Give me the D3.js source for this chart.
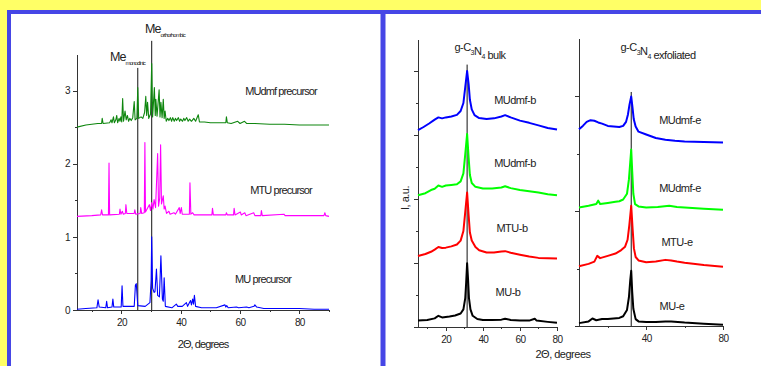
<!DOCTYPE html>
<html lang="en">
<head>
<meta charset="UTF-8">
<title>XRD patterns: precursors and g-C3N4</title>
<script src="https://d3js.org/d3.v7.min.js"></script>
<style>
    body { margin: 0; background: #fff; }
    svg text { font-family: "Liberation Sans Narrow", "Liberation Sans", Arial, sans-serif; fill: #222; }
    .axis path, .axis line { stroke: #333; stroke-width: 1px; shape-rendering: crispEdges; }
    .axis text { font-size: 10px; letter-spacing: -0.6px; }
    .trace { fill: none; stroke-linejoin: round; }
    .lbl { font-size: 11px; letter-spacing: -0.9px; }
    .lbl2 { font-size: 11px; letter-spacing: -0.5px; }
    .me { font-size: 12.5px; letter-spacing: -0.9px; }
</style>
</head>
<body>
<svg id="chart" width="761" height="366"></svg>
<script>
// ---- left panel: precursors, [2theta, intensity] ----
const muPrecursor = [[5,0.01],[8,0.02],[11.7,0.03],[12.1,0.14],[12.5,0.04],[14.7,0.03],[15,0.12],[15.3,0.03],[16.8,0.04],[17.1,0.15],[17.4,0.04],[19.9,0.04],[20.2,0.33],[20.5,0.05],[24.3,0.05],[24.7,0.34],[25,0.36],[25.5,0.06],[28,0.05],[29.6,0.1],[30,0.4],[30.2,1.0],[30.5,0.3],[31,0.24],[31.3,0.25],[31.8,0.56],[32.2,0.2],[32.8,0.18],[33.3,0.74],[33.8,0.15],[34.1,0.12],[34.4,0.44],[34.8,0.05],[37,0.03],[38.5,0.08],[39,0.05],[40.5,0.05],[41.9,0.1],[42.3,0.05],[43.3,0.13],[43.6,0.07],[44,0.15],[44.3,0.08],[44.6,0.2],[45,0.05],[47,0.03],[52,0.03],[54.9,0.07],[55.2,0.04],[55.5,0.06],[56,0.03],[58.8,0.04],[59.5,0.03],[62.2,0.04],[63,0.03],[64.7,0.05],[65,0.07],[65.6,0.04],[68,0.02],[75,0.02],[80,0.02],[85,0.01],[90,0.01]];

const mtuPrecursor = [[5,1.28],[10,1.29],[13,1.30],[13.3,1.37],[13.6,1.30],[15.6,1.30],[15.8,2.01],[16.0,1.30],[19.3,1.31],[19.5,1.38],[19.8,1.31],[20.3,1.35],[20.6,1.31],[21.3,1.32],[21.5,1.44],[21.8,1.32],[24.3,1.32],[24.5,1.37],[24.8,1.31],[26.3,1.32],[26.5,1.40],[26.8,1.32],[27.7,1.33],[27.9,2.29],[28.1,1.34],[29.4,1.44],[29.8,1.36],[30.2,1.47],[30.6,1.38],[31,1.51],[31.5,1.40],[32.2,2.14],[32.5,1.42],[32.9,1.53],[33.2,2.26],[33.5,1.45],[34.1,1.56],[34.4,1.38],[34.7,1.42],[35.2,1.32],[36,1.35],[36.4,1.31],[37.7,1.33],[38.2,1.31],[39.5,1.40],[39.8,1.32],[40.2,1.40],[40.5,1.31],[42.9,1.31],[43.1,1.74],[43.4,1.31],[44,1.33],[44.5,1.30],[47,1.30],[50.5,1.30],[50.7,1.39],[51,1.30],[55.2,1.30],[55.4,1.33],[55.7,1.30],[57.8,1.30],[58,1.39],[58.3,1.30],[60.1,1.34],[60.4,1.30],[61.6,1.33],[62,1.29],[64.6,1.33],[65,1.29],[67,1.29],[67.2,1.36],[67.5,1.29],[74.8,1.31],[75.2,1.29],[80,1.29],[88.3,1.29],[88.6,1.33],[88.9,1.29],[90,1.28]];

const mudmfPrecursor = [[5,2.50],[8,2.53],[12,2.55],[13.3,2.55],[13.5,2.62],[13.8,2.55],[16,2.56],[16.5,2.60],[16.8,2.56],[17.3,2.64],[17.6,2.56],[18.1,2.60],[18.4,2.66],[18.7,2.56],[19.2,2.62],[19.5,2.58],[19.8,2.64],[20.1,2.57],[20.4,2.89],[20.7,2.58],[21.2,2.72],[21.6,2.60],[22,2.66],[22.4,2.58],[22.8,2.62],[23.3,2.59],[23.8,2.63],[24.3,2.85],[24.6,2.60],[25.2,2.62],[25.5,3.04],[25.8,2.62],[26.6,2.64],[27.2,2.62],[27.8,2.70],[28.2,2.92],[28.5,2.66],[28.8,2.84],[29.2,2.62],[29.8,2.68],[30.2,3.37],[30.5,2.64],[31.1,3.04],[31.4,2.66],[31.6,2.88],[32,2.65],[32.7,3.01],[33,2.64],[33.3,2.84],[33.7,2.63],[34.1,2.88],[34.4,2.62],[34.7,2.72],[35.1,2.58],[35.6,2.62],[36,2.59],[36.5,2.63],[36.9,2.58],[37.3,2.63],[37.8,2.58],[38.2,2.62],[38.6,2.59],[39.2,2.63],[39.6,2.58],[40,2.61],[40.6,2.58],[41,2.62],[41.4,2.59],[42,2.63],[42.5,2.58],[43,2.61],[43.6,2.58],[44.4,2.62],[45,2.58],[45.9,2.67],[46.3,2.57],[48,2.57],[50,2.56],[52,2.56],[55.2,2.56],[55.4,2.64],[55.7,2.56],[57,2.55],[59.2,2.58],[60,2.55],[61.5,2.58],[62.2,2.55],[65,2.55],[70,2.54],[75,2.54],[80,2.53],[85,2.53],[90,2.53]];

// reference lines: [2theta, top]
const meMonoclinic = [25.5, 3.31];
const meOrthorhombic = [30.2, 3.68];

const leftXTicks = [20, 40, 60, 80];
const leftXMinor = [10, 30, 50, 70, 90];
const leftYTicks = [0, 1, 2, 3];
const leftYMinor = [0.5, 1.5, 2.5];

// ---- right panels: g-C3N4 bulk / exfoliated ----
const bulkMU = [[5,0.2],[10,0.22],[14,0.27],[16,0.35],[18,0.3],[22,0.33],[25,0.36],[28,0.42],[29.5,0.55],[30.5,0.9],[31,1.4],[31.5,1.99],[32,1.5],[32.5,0.9],[33.3,0.55],[34.5,0.35],[37,0.25],[40,0.22],[45,0.22],[50,0.23],[52,0.26],[55,0.22],[60,0.2],[65,0.2],[68,0.26],[69,0.2],[75,0.16],[80,0.13]];
const bulkMTU = [[5,2.22],[9,2.28],[12,2.35],[14,2.42],[16,2.5],[18,2.47],[20,2.48],[23,2.52],[26,2.58],[28,2.7],[29.5,3.0],[30.5,3.6],[31.5,4.2],[32.3,3.5],[33,2.95],[34,2.7],[36,2.5],[38,2.4],[42,2.33],[46,2.33],[50,2.36],[52,2.37],[55,2.32],[60,2.26],[65,2.2],[70,2.16],[75,2.15],[80,2.14]];
const bulkMUdmfG = [[5,4.12],[9,4.18],[12,4.28],[14,4.32],[16,4.42],[18,4.38],[20,4.42],[23,4.44],[26,4.46],[28,4.55],[29.5,4.8],[30.5,5.4],[31.5,6.03],[32.3,5.3],[33,4.75],[34,4.5],[36,4.38],[40,4.33],[45,4.33],[50,4.36],[52,4.40],[55,4.34],[60,4.28],[65,4.24],[70,4.2],[75,4.15],[80,4.12]];
const bulkMUdmf = [[5,6.15],[8,6.25],[11,6.36],[14,6.48],[16,6.55],[18,6.52],[20,6.55],[23,6.58],[26,6.63],[28,6.75],[29.5,7.0],[30.5,7.5],[31.5,8.0],[32.3,7.6],[33,7.1],[34,6.8],[35.5,6.62],[38,6.53],[42,6.5],[46,6.52],[50,6.58],[52,6.62],[55,6.55],[60,6.45],[65,6.38],[70,6.3],[75,6.22],[80,6.17]];
const bulkLine = [31.5, 8.2];

const exfMU = [[5,0.05],[10,0.08],[12,0.13],[14,0.1],[17,0.12],[20,0.12],[23,0.13],[26,0.14],[28,0.17],[30,0.28],[31,0.5],[31.7,0.8],[32.2,0.96],[32.7,0.6],[33.3,0.3],[34.5,0.12],[36,0.08],[40,0.07],[45,0.07],[50,0.08],[53,0.08],[60,0.06],[70,0.04],[80,0.02]];
const exfMTU = [[5,1.04],[10,1.08],[13,1.12],[14.5,1.22],[16,1.18],[20,1.22],[24,1.26],[27,1.32],[29,1.38],[30.3,1.5],[31.2,1.75],[32.2,2.09],[32.9,1.7],[33.6,1.35],[34.5,1.2],[36,1.14],[40,1.11],[45,1.12],[50,1.15],[53,1.14],[56,1.12],[60,1.1],[70,1.06],[80,1.03]];
const exfMUdmfG = [[5,2.06],[10,2.09],[14,2.12],[15,2.18],[16,2.12],[20,2.14],[24,2.16],[26,2.17],[28,2.2],[30,2.3],[31,2.55],[31.7,2.85],[32.2,3.07],[32.7,2.7],[33.3,2.3],[34.2,2.12],[36,2.08],[40,2.06],[46,2.07],[52,2.09],[56,2.07],[60,2.06],[70,2.04],[80,2.02]];
const exfMUdmf = [[5,3.42],[7,3.48],[9,3.55],[11,3.58],[13,3.57],[15,3.54],[17,3.52],[20,3.48],[23,3.47],[26,3.46],[28,3.48],[29.5,3.55],[30.5,3.68],[31.3,3.85],[32.2,3.99],[32.8,3.82],[33.5,3.6],[34.5,3.47],[36,3.38],[40,3.33],[45,3.27],[50,3.24],[55,3.22],[60,3.21],[70,3.2],[80,3.19]];
const exfLine = [32.2, 4.07];

const bulkXTicks = [20, 40, 60, 80];
const bulkXMinor = [10, 30, 50, 70];
const bulkYTicks = [0, 2, 4, 6, 8];
const bulkYMinor = [1, 3, 5, 7];
const exfXTicks = [40, 80];
const exfXMinor = [20, 60];
const exfYTicks = [0, 2, 4];
const exfYMinor = [1, 3];

const svg = d3.select("#chart");

// frame: yellow slide background with blue panel borders
svg.append("rect").attr("width", 761).attr("height", 366).attr("fill", "#fff");
svg.append("rect").attr("width", 761).attr("height", 10).attr("fill", "#ffff66");
svg.append("rect").attr("width", 7).attr("height", 366).attr("fill", "#ffff66");
svg.append("rect").attr("x", 7).attr("y", 10).attr("width", 754).attr("height", 4).attr("fill", "#4646e6");
svg.append("rect").attr("x", 7).attr("y", 10).attr("width", 4).attr("height", 356).attr("fill", "#4646e6");
svg.append("rect").attr("x", 380.5).attr("y", 10).attr("width", 5).attr("height", 356).attr("fill", "#4646e6");

function drawAxes(x, y, o) {
    const g = svg.append("g");
    g.append("g").attr("class", "axis")
        .attr("transform", `translate(0,${y.range()[0]})`)
        .call(d3.axisBottom(x).tickValues(o.xt).tickSize(4).tickSizeOuter(0).tickFormat(o.lx ? d3.format("d") : ""))
        .call(s => s.selectAll("text").attr("dy", "0.9em"));
    g.append("g").attr("class", "axis")
        .attr("transform", `translate(0,${y.range()[0]})`)
        .call(d3.axisBottom(x).tickValues(o.xm).tickSize(2).tickSizeOuter(0).tickFormat(""));
    g.append("g").attr("class", "axis")
        .attr("transform", `translate(${x.range()[0]},0)`)
        .call(d3.axisLeft(y).tickValues(o.yt).tickSize(4).tickSizeOuter(0).tickFormat(o.ly ? d3.format("d") : ""));
    g.append("g").attr("class", "axis")
        .attr("transform", `translate(${x.range()[0]},0)`)
        .call(d3.axisLeft(y).tickValues(o.ym).tickSize(2).tickSizeOuter(0).tickFormat(""));
}

function drawTrace(x, y, data, color, w) {
    const line = d3.line().x(d => x(d[0])).y(d => y(d[1]));
    svg.append("path").attr("class", "trace").attr("d", line(data))
        .attr("stroke", color).attr("stroke-width", w);
}

function drawMarker(x, y, m) {
    svg.append("line")
        .attr("x1", x(m[0])).attr("x2", x(m[0]))
        .attr("y1", y(m[1])).attr("y2", y(0))
        .attr("stroke", "#111").attr("stroke-width", 1);
}

function subText(px, py, parts, cls, anchor) {
    const t = svg.append("text").attr("class", cls).attr("x", px).attr("y", py)
        .attr("text-anchor", anchor || "middle");
    parts.forEach(p => {
        if (p.sub) {
            t.append("tspan").attr("dy", 4).attr("font-size", p.size || 7).text(p.t);
            t.append("tspan").attr("dy", -4).text("");
        } else {
            t.append("tspan").text(p.t);
        }
    });
    return t;
}

// ---- left chart ----
const xL = d3.scaleLinear().domain([5, 90]).range([77, 329]);
const yL = d3.scaleLinear().domain([0, 3.5]).range([310, 54]);
drawAxes(xL, yL, { xt: leftXTicks, xm: leftXMinor, yt: leftYTicks, ym: leftYMinor, lx: true, ly: true });
drawMarker(xL, yL, meMonoclinic);
drawMarker(xL, yL, meOrthorhombic);
drawTrace(xL, yL, muPrecursor, "#0000ff", 1.1);
drawTrace(xL, yL, mtuPrecursor, "#ff00ff", 1.1);
drawTrace(xL, yL, mudmfPrecursor, "#0e860e", 1.1);

svg.append("text").attr("class", "lbl").attr("x", 281).attr("y", 95).attr("text-anchor", "middle").text("MUdmf precursor");
svg.append("text").attr("class", "lbl").attr("x", 281).attr("y", 194).attr("text-anchor", "middle").text("MTU precursor");
svg.append("text").attr("class", "lbl").attr("x", 263).attr("y", 283).attr("text-anchor", "middle").text("MU precursor");
subText(110, 61, [{ t: "Me" }, { t: "monoclinic", sub: true, size: 6 }], "me", "start");
subText(145, 33, [{ t: "Me" }, { t: "orthorhombic", sub: true, size: 6 }], "me", "start");
svg.append("text").attr("class", "lbl").attr("x", 203).attr("y", 348).attr("text-anchor", "middle").text("2Θ, degrees");

// ---- right chart: bulk ----
const xB = d3.scaleLinear().domain([5, 80]).range([418, 557]);
const yB = d3.scaleLinear().domain([0, 9]).range([327, 39]);
drawAxes(xB, yB, { xt: bulkXTicks, xm: bulkXMinor, yt: bulkYTicks, ym: bulkYMinor, lx: true, ly: false });
drawMarker(xB, yB, bulkLine);
drawTrace(xB, yB, bulkMU, "#000", 2);
drawTrace(xB, yB, bulkMTU, "#ff0000", 2);
drawTrace(xB, yB, bulkMUdmfG, "#00ff00", 2);
drawTrace(xB, yB, bulkMUdmf, "#0000ff", 2);
svg.append("text").attr("class", "lbl2").attr("x", 515).attr("y", 104).attr("text-anchor", "middle").text("MUdmf-b");
svg.append("text").attr("class", "lbl2").attr("x", 515).attr("y", 167).attr("text-anchor", "middle").text("MUdmf-b");
svg.append("text").attr("class", "lbl2").attr("x", 512).attr("y", 232).attr("text-anchor", "middle").text("MTU-b");
svg.append("text").attr("class", "lbl2").attr("x", 508).attr("y", 296).attr("text-anchor", "middle").text("MU-b");
subText(480, 51, [{ t: "g-C" }, { t: "3", sub: true }, { t: "N" }, { t: "4", sub: true }, { t: " bulk" }], "lbl2");

// ---- right chart: exfoliated ----
const xE = d3.scaleLinear().domain([5, 80]).range([579, 723]);
const yE = d3.scaleLinear().domain([0, 5]).range([326, 38.5]);
drawAxes(xE, yE, { xt: exfXTicks, xm: exfXMinor, yt: exfYTicks, ym: exfYMinor, lx: true, ly: false });
drawMarker(xE, yE, exfLine);
drawTrace(xE, yE, exfMU, "#000", 2);
drawTrace(xE, yE, exfMTU, "#ff0000", 2);
drawTrace(xE, yE, exfMUdmfG, "#00ff00", 2);
drawTrace(xE, yE, exfMUdmf, "#0000ff", 2);
svg.append("text").attr("class", "lbl2").attr("x", 680).attr("y", 124).attr("text-anchor", "middle").text("MUdmf-e");
svg.append("text").attr("class", "lbl2").attr("x", 680).attr("y", 192).attr("text-anchor", "middle").text("MUdmf-e");
svg.append("text").attr("class", "lbl2").attr("x", 677).attr("y", 246).attr("text-anchor", "middle").text("MTU-e");
svg.append("text").attr("class", "lbl2").attr("x", 672).attr("y", 310).attr("text-anchor", "middle").text("MU-e");
subText(658, 51, [{ t: "g-C" }, { t: "3", sub: true }, { t: "N" }, { t: "4", sub: true }, { t: " exfoliated" }], "lbl2");

svg.append("text").attr("class", "lbl2").attr("x", 563).attr("y", 358).attr("text-anchor", "middle").text("2Θ, degrees");
svg.append("text").attr("class", "lbl2").attr("transform", "translate(409,198) rotate(-90)")
    .attr("text-anchor", "middle").text("I, a.u.");
</script>
</body>
</html>
